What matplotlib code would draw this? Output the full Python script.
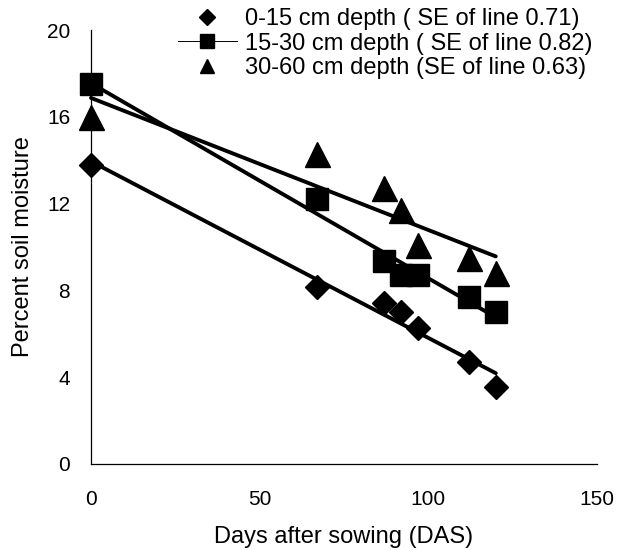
import numpy as np
import matplotlib
matplotlib.use("Agg")
import matplotlib.pyplot as plt
from matplotlib.lines import Line2D

plt.rcParams['font.family'] = ['Liberation Sans', 'DejaVu Sans']

# Dias despues de la siembra y humedad del suelo por profundidad
das = [0, 67, 87, 92, 97, 112, 120]
depth_0_15 = [13.8, 8.15, 7.4, 7.0, 6.25, 4.7, 3.55]
depth_15_30 = [17.5, 12.2, 9.35, 8.7, 8.7, 7.7, 7.0]
depth_30_60 = [16.0, 14.3, 12.7, 11.7, 10.1, 9.5, 8.8]

labels = ['0-15 cm depth ( SE of line 0.71)',
          '15-30 cm depth ( SE of line 0.82)',
          '30-60 cm depth (SE of line 0.63)']
markers = ['D', 's', '^']
plot_sizes = [12, 16.5, 18]
legend_sizes = [8.5, 9.5, 10.5]

x_ticks = [0, 50, 100, 150]
y_ticks = [0, 4, 8, 12, 16, 20]

fig = plt.figure(figsize=(6.21, 5.5), dpi=100)
ax = fig.add_axes([0.1465, 0.1564, 0.8148, 0.789])

series = [depth_0_15, depth_15_30, depth_30_60]
x = np.array(das, dtype=float)
for values, mk, ms in zip(series, markers, plot_sizes):
    y = np.array(values)
    # linea de regresion
    slope, intercept = np.polyfit(x, y, 1)
    xs = np.array([x.min(), x.max()])
    ax.plot(xs, intercept + slope * xs, color='black', linewidth=2.8,
            solid_capstyle='round', clip_on=False, zorder=2)
    ax.plot(x, y, linestyle='none', marker=mk, markersize=ms,
            color='black', clip_on=False, zorder=3)

ax.set_xlim(0, 150)
ax.set_ylim(0, 20)
ax.set_xticks(x_ticks)
ax.set_yticks(y_ticks)
ax.tick_params(axis='both', length=0, labelsize=15)
ax.tick_params(axis='x', pad=19)
ax.tick_params(axis='y', pad=15)
for side in ['top', 'right']:
    ax.spines[side].set_visible(False)
for side in ['left', 'bottom']:
    ax.spines[side].set_linewidth(0.9)

ax.set_xlabel('Days after sowing (DAS)', fontsize=17, labelpad=12)
ax.set_ylabel('Percent soil moisture', fontsize=17)
ax.yaxis.set_label_coords(-0.112, 0.5)

handles = [
    Line2D([], [], linestyle='none', marker='D', markersize=legend_sizes[0], color='black'),
    Line2D([], [], linestyle='-', linewidth=0.7, marker='s', markersize=legend_sizes[1], color='black'),
    Line2D([], [], linestyle='none', marker='^', markersize=legend_sizes[2], color='black'),
]
ax.legend(handles, labels, loc='upper left', bbox_to_anchor=(0.2866, 0.985),
          bbox_transform=fig.transFigure, frameon=False, fontsize=17,
          handlelength=2.5, handletextpad=0.35, labelspacing=0.1,
          borderpad=0, borderaxespad=0)

plt.savefig('out.png', dpi=100)
